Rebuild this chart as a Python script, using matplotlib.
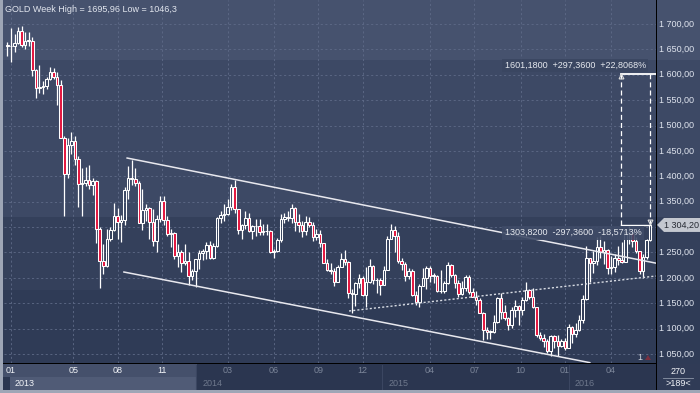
import matplotlib
matplotlib.use('Agg')
import matplotlib.pyplot as plt
from matplotlib.patches import Rectangle, Polygon

plt.rcParams['font.family'] = ['Liberation Sans', 'DejaVu Sans']

# weekly GOLD candles, week of 24 Dec 2012 -> week of 13 Jun 2016
opens = [1659, 1657, 1656, 1662, 1687, 1658, 1667, 1667, 1609, 1573, 1576, 1577, 1592, 1606, 1596, 1580,
         1476, 1405, 1462, 1469, 1435, 1385, 1386, 1392, 1383, 1390, 1296, 1234, 1223, 1277, 1295, 1321,
         1310, 1313, 1373, 1396, 1395, 1386, 1308, 1333, 1338, 1310, 1272, 1315, 1351, 1314, 1287, 1288,
         1243, 1250, 1230, 1234, 1203, 1214, 1237, 1248, 1252, 1264, 1240, 1262, 1318, 1324, 1326, 1339,
         1379, 1335, 1294, 1304, 1318, 1293, 1303, 1302, 1290, 1293, 1292, 1250, 1252, 1275, 1316, 1320,
         1317, 1337, 1310, 1304, 1293, 1310, 1305, 1280, 1287, 1268, 1230, 1216, 1214, 1192, 1222, 1238,
         1231, 1171, 1169, 1190, 1200, 1167, 1191, 1223, 1195, 1195, 1186, 1216, 1277, 1294, 1283, 1234,
         1227, 1204, 1213, 1167, 1152, 1183, 1199, 1219, 1204, 1204, 1175, 1174, 1189, 1225, 1205, 1189,
         1168, 1180, 1201, 1173, 1163, 1157, 1131, 1098, 1094, 1094, 1113, 1160, 1133, 1121, 1108, 1137,
         1145, 1137, 1156, 1177, 1163, 1142, 1088, 1081, 1076, 1056, 1085, 1076, 1065, 1075, 1061, 1104,
         1090, 1097, 1117, 1158, 1239, 1230, 1234, 1260, 1250, 1255, 1220, 1222, 1239, 1235, 1232, 1290,
         1289, 1272, 1252, 1213, 1242, 1275]
highs = [1665, 1693, 1680, 1694, 1696, 1685, 1684, 1675, 1612, 1619, 1588, 1596, 1616, 1613, 1605, 1590,
         1480, 1476, 1487, 1480, 1440, 1417, 1419, 1423, 1397, 1392, 1300, 1267, 1297, 1300, 1348, 1338,
         1323, 1378, 1420, 1433, 1417, 1390, 1375, 1345, 1340, 1335, 1324, 1361, 1361, 1322, 1296, 1290,
         1266, 1254, 1267, 1250, 1217, 1238, 1255, 1256, 1270, 1272, 1268, 1320, 1332, 1345, 1355, 1385,
         1392, 1336, 1306, 1331, 1328, 1305, 1315, 1315, 1306, 1307, 1294, 1257, 1279, 1325, 1328, 1332,
         1345, 1340, 1325, 1311, 1322, 1320, 1310, 1296, 1294, 1268, 1237, 1230, 1219, 1225, 1249, 1255,
         1234, 1178, 1192, 1208, 1203, 1221, 1238, 1226, 1200, 1200, 1223, 1283, 1307, 1303, 1290, 1240,
         1232, 1220, 1217, 1175, 1187, 1219, 1223, 1224, 1209, 1205, 1215, 1194, 1232, 1228, 1207, 1196,
         1194, 1205, 1205, 1180, 1174, 1160, 1132, 1104, 1098, 1126, 1162, 1170, 1146, 1123, 1143, 1156,
         1147, 1163, 1191, 1178, 1180, 1143, 1094, 1090, 1080, 1088, 1088, 1088, 1080, 1082, 1110, 1106,
         1111, 1127, 1167, 1263, 1240, 1253, 1280, 1282, 1273, 1257, 1244, 1247, 1262, 1270, 1296, 1303,
         1290, 1280, 1253, 1247, 1277, 1306]
lows = [1636, 1625, 1644, 1660, 1655, 1651, 1656, 1598, 1554, 1565, 1562, 1571, 1590, 1591, 1540, 1475,
        1321, 1396, 1444, 1422, 1339, 1322, 1380, 1375, 1364, 1268, 1180, 1207, 1222, 1272, 1292, 1276,
        1270, 1305, 1355, 1382, 1380, 1308, 1295, 1311, 1277, 1262, 1251, 1310, 1305, 1283, 1261, 1237,
        1221, 1211, 1225, 1185, 1195, 1181, 1217, 1235, 1238, 1238, 1237, 1260, 1309, 1311, 1324, 1334,
        1327, 1287, 1277, 1296, 1290, 1277, 1283, 1284, 1284, 1284, 1248, 1240, 1250, 1270, 1309, 1311,
        1308, 1292, 1290, 1281, 1284, 1301, 1273, 1275, 1261, 1229, 1214, 1207, 1183, 1191, 1221, 1226,
        1160, 1131, 1145, 1180, 1165, 1142, 1190, 1187, 1170, 1167, 1185, 1216, 1277, 1250, 1230, 1216,
        1194, 1197, 1164, 1147, 1142, 1183, 1178, 1191, 1190, 1173, 1170, 1170, 1187, 1201, 1180, 1162,
        1166, 1175, 1169, 1162, 1146, 1130, 1077, 1080, 1080, 1092, 1112, 1118, 1116, 1098, 1101, 1123,
        1108, 1126, 1154, 1159, 1140, 1084, 1077, 1063, 1052, 1046, 1061, 1046, 1063, 1058, 1061, 1072,
        1083, 1095, 1111, 1157, 1191, 1210, 1225, 1239, 1227, 1208, 1207, 1211, 1226, 1230, 1232, 1266,
        1260, 1249, 1208, 1200, 1238, 1272]
closes = opens[1:] + [1304.2]

month_ticks = [1, 18.5, 31, 43.5, 62, 75, 87.5, 100, 119, 131.5, 144.5, 157, 170]
month_labels = ['01', '05', '08', '11', '03', '06', '09', '12', '04', '07', '10', '01', '04']
year_starts = [0.7, 53.6, 105.9, 158.5]
year_labels = ['2013', '2014', '2015', '2016']
price_ticks = list(range(1050, 1701, 50))

upper_line = ([33.7, 182.6], [1436, 1229])
lower_line = ([32.8, 164.0], [1211.5, 1033])
support_line = ([96.2, 182.6], [1134.7, 1203.6])
measure_x = [172.8, 181.0]
measure_top, measure_bottom = 1601.18, 1303.82
last_price = 1304.2

W, H = 700, 393
fig = plt.figure(figsize=(7, 3.93), dpi=100)
fig.patch.set_facecolor('#2b3650')


def fy(py):
    return 1 - py / H


def frect(x0, y0, x1, y1, color, z=-2):
    fig.patches.append(Rectangle((x0 / W, fy(y1)), (x1 - x0) / W, (y1 - y0) / H,
                                 transform=fig.transFigure, color=color, zorder=z, lw=0))


# background bands
for top, bot, c in [(0, 60, '#46526e'), (60, 217, '#3d4965'), (217, 290, '#34405b'), (290, 364, '#2f3b56')]:
    frect(0, top, W, bot, c)
# bottom time panel
frect(0, 364, W, 393, '#2b3650')
frect(3, 364, 197, 377, '#45506b')
frect(10, 377, 196, 390, '#505b76')
frect(657, 364, W, 390, '#303b56')
frect(0, 363, 657, 364.2, '#000000', 3)
frect(656, 0, 657.2, 393, '#000000', 3)
frect(0, 0, 3, 393, '#9ea6b6', 3)
frect(0, 390, W, 393, '#9ea6b6', 3)

xl = ((4 - 7.45) / 3.551, (656 - 7.45) / 3.551)
yl = (1700 - 339 / 0.5077, 1700 + 24 / 0.5077)
ax = fig.add_axes([4 / W, fy(363), 652 / W, 363 / H])
ax.set_facecolor('none')
ax.set_xlim(*xl)
ax.set_ylim(*yl)
ax.axis('off')

grid_kw = dict(color='#5f6b88', lw=0.6, ls=(0, (2.5, 3)), zorder=1)
for p in price_ticks:
    ax.axhline(p, **grid_kw)
for t in month_ticks:
    ax.axvline(t, **grid_kw)

# candles
for i, (o, h, l, c) in enumerate(zip(opens, highs, lows, closes)):
    top, bot = max(o, c), min(o, c)
    ax.vlines(i, top, h, color='white', lw=0.9, zorder=3)
    ax.vlines(i, l, bot, color='white', lw=0.9, zorder=3)
    face = '#e3163f' if c < o else 'none'
    ax.add_patch(Rectangle((i - 0.36, bot), 0.72, max(top - bot, 0.8), facecolor=face,
                           edgecolor='white', lw=0.75, zorder=4))

# channel / support lines
ax.plot(*upper_line, color='#e8e8ee', lw=1.1, zorder=5)
ax.plot(*lower_line, color='#e8e8ee', lw=1.1, zorder=5)
ax.plot(*support_line, color='#d8dce4', lw=1.0, ls=(0, (1.5, 1.5)), zorder=5)

# measurement tool
mx0, mx1 = measure_x
ax.plot([mx0, mx0], [measure_bottom, measure_top], color='white', lw=0.9, ls=(0, (4, 2.5)), zorder=6)
ax.plot([mx1, mx1], [measure_bottom, measure_top], color='white', lw=0.9, ls=(0, (4, 2.5)), zorder=6)
ax.plot([mx0, xl[1]], [measure_top, measure_top], color='white', lw=1.3, zorder=6, clip_on=False)
ax.plot([mx0, mx1], [measure_bottom, measure_bottom], color='white', lw=1.0, zorder=6)
ax.plot([mx0], [measure_top - 4], marker='^', ms=3.5, mfc='none', mec='#dddddd', mew=0.8, zorder=7)
ax.plot([mx1], [measure_bottom + 6], marker='v', ms=3.5, mfc='none', mec='#dddddd', mew=0.8, zorder=7)

box = dict(boxstyle='square,pad=0.25', fc='#3a4661', ec='none', alpha=0.9)
ax.text(mx1 - 1.2, measure_top + 17, '1601,1800  +297,3600  +22,8068%', ha='right', va='center',
        fontsize=6.5, color='#e6e9ef', bbox=box, zorder=8)
ax.text(mx1 - 2.5, measure_bottom - 15, '1303,8200  -297,3600  -18,5713%', ha='right', va='center',
        fontsize=6.5, color='#e6e9ef', bbox=dict(box, fc='#3f4b67'), zorder=8)

fig.text(5 / W, fy(9), 'GOLD Week High = 1695,96 Low = 1046,3', fontsize=6.5, color='#e2e6ee',
         ha='left', va='center')

# right price scale (the label under the last-price tag is hidden)
ytr = ax.get_yaxis_transform()
for p in price_ticks:
    if abs(p - last_price) < 15:
        continue
    lab = f'{p // 1000} {p % 1000:03d},00'
    ax.text((659 - 4) / 652, p, lab, transform=ytr, fontsize=6.5, color='#dfe4ee',
            ha='left', va='center', clip_on=False)

# last price tag
ly = 24 + (1700 - last_price) * 0.5077
tag = Polygon([(657 / W, fy(ly)), (664 / W, fy(ly - 7)), (700 / W, fy(ly - 7)),
               (700 / W, fy(ly + 7)), (664 / W, fy(ly + 7))], closed=True,
              transform=fig.transFigure, fc='#c4c8d0', ec='none', zorder=5)
fig.patches.append(tag)
fig.text(664 / W, fy(ly), '1 304,20', fontsize=6.5, color='#262a33', ha='left', va='center', zorder=6)

# bottom time axis
xtr = ax.get_xaxis_transform()
for t, lab, k in zip(month_ticks, month_labels, range(len(month_ticks))):
    col = '#f2f4f8' if k < 4 else '#7b8599'
    ax.text(t, -(370.5 - 363) / 363, lab, transform=xtr, fontsize=6.5, color=col,
            ha='center', va='center', clip_on=False)
for s, lab, k in zip(year_starts, year_labels, range(4)):
    col = '#f2f4f8' if k == 0 else '#6e788c'
    ax.text(s + 1.3, -(384 - 363) / 363, lab, transform=xtr, fontsize=6.5, color=col,
            ha='left', va='center', clip_on=False)
for s in year_starts[1:]:
    ax.plot([s - 0.4, s - 0.4], [-(364.5 - 363) / 363, -(390 - 363) / 363], transform=xtr,
            color='#3b4661', lw=0.8, clip_on=False)

fig.text(678 / W, fy(371), '270', fontsize=6.5, color='#f2f4f8', ha='center', va='center')
fig.add_artist(plt.Line2D([663 / W, 693 / W], [fy(377.5), fy(377.5)], color='#8d96a8', lw=0.6))
fig.text(678 / W, fy(384), '>189<', fontsize=6.5, color='#f2f4f8', ha='center', va='center')

fig.text(640 / W, fy(357), '1', fontsize=6.5, color='#d0d4dc', ha='center', va='center')
fig.patches.append(Polygon([(645 / W, fy(360)), (651 / W, fy(360)), (648 / W, fy(355))],
                           closed=True, transform=fig.transFigure, fc='#7a3040', ec='none'))

fig.savefig('out.png', dpi=100)
